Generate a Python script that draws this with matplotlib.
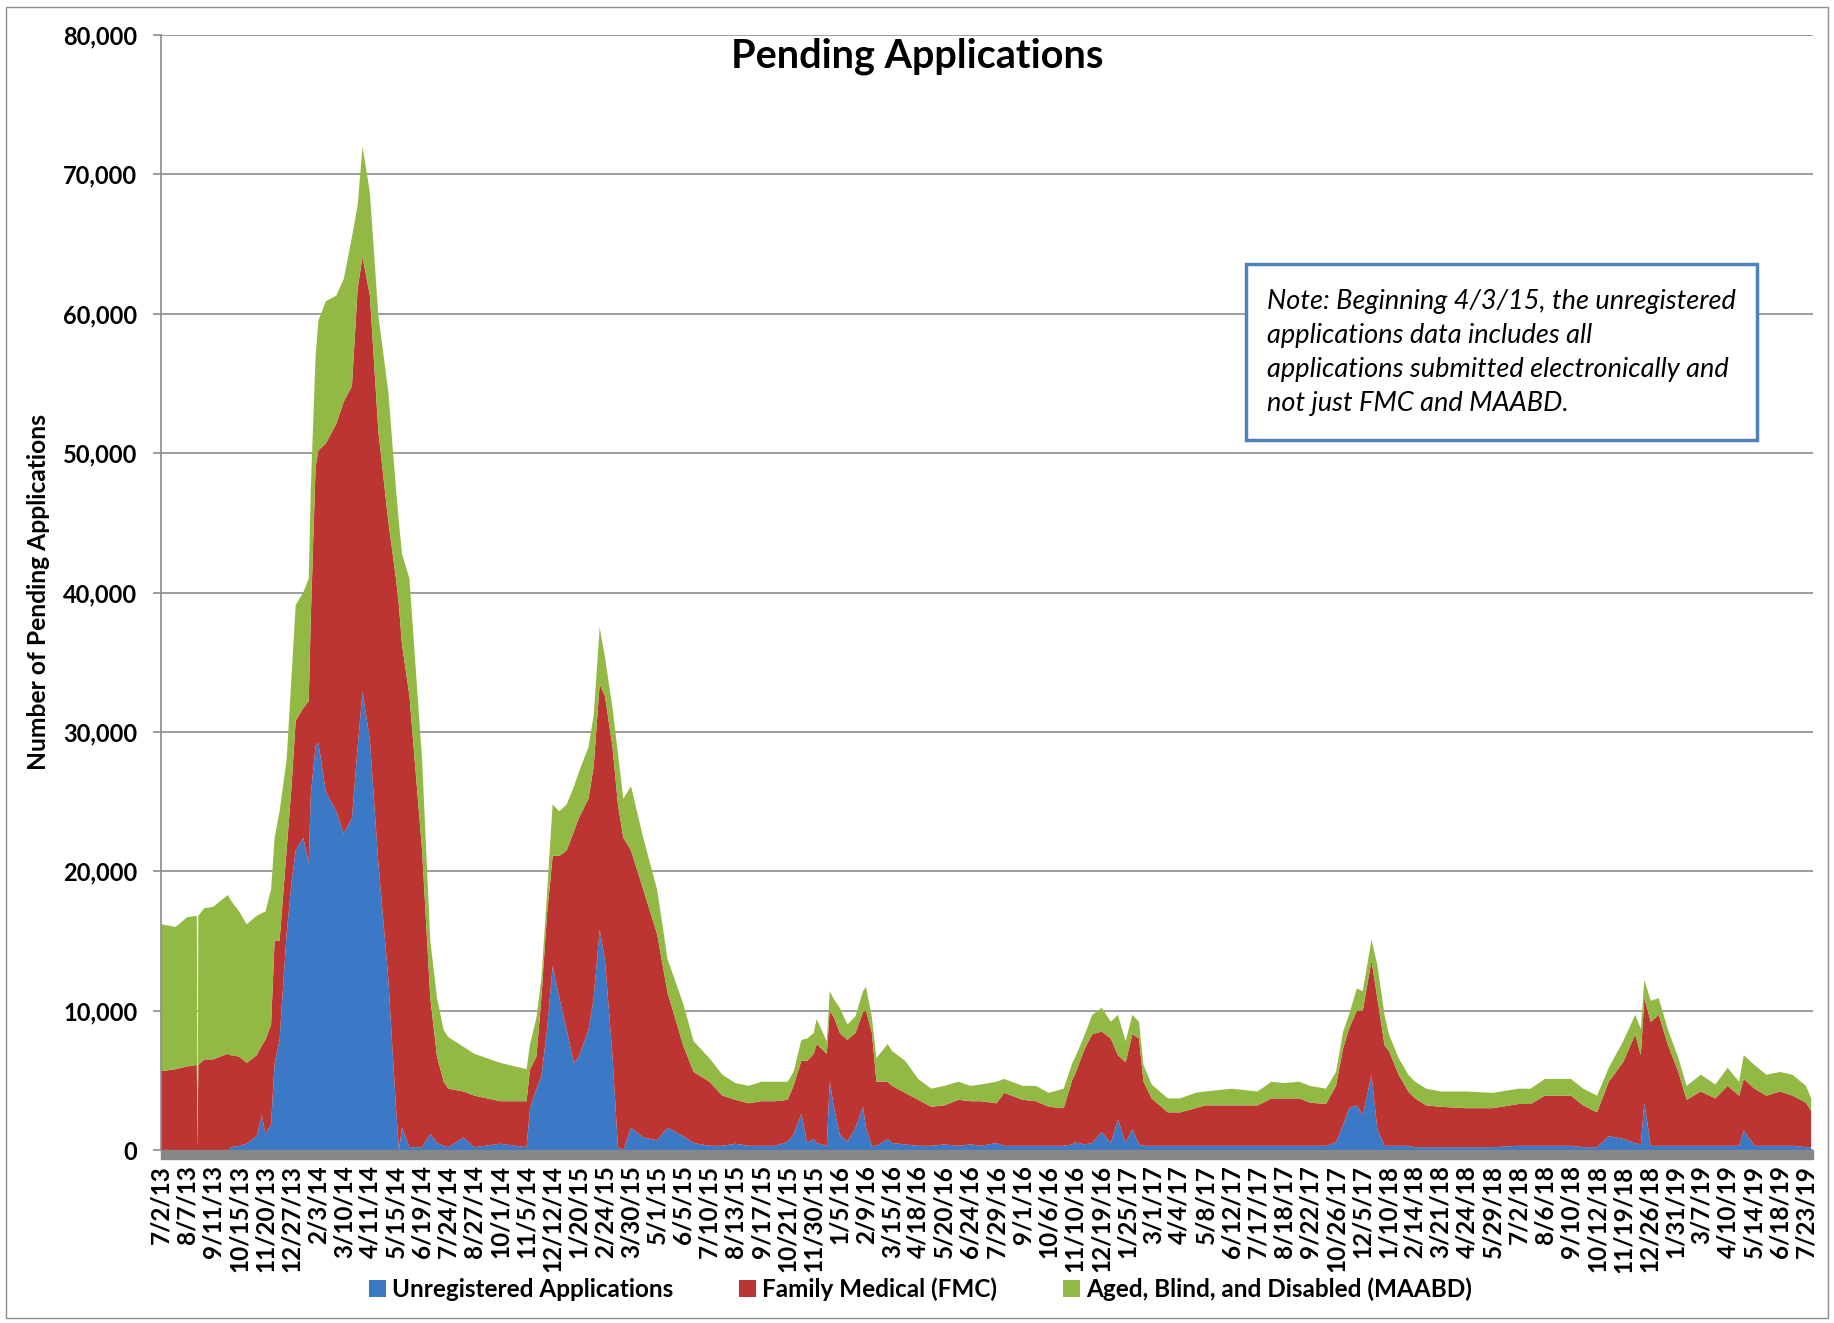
import numpy as np
import pandas as pd
import matplotlib
matplotlib.use("Agg")
import matplotlib.pyplot as plt
from matplotlib.patches import Patch, Rectangle
from matplotlib.ticker import FuncFormatter, MultipleLocator

plt.rcParams["font.family"] = ["Lato", "DejaVu Sans"]

# category labels shown on the x axis
tick_labels = [
    "7/2/13", "8/7/13", "9/11/13", "10/15/13", "11/20/13", "12/27/13", "2/3/14", "3/10/14",
    "4/11/14", "5/15/14", "6/19/14", "7/24/14", "8/27/14", "10/1/14", "11/5/14", "12/12/14",
    "1/20/15", "2/24/15", "3/30/15", "5/1/15", "6/5/15", "7/10/15", "8/13/15", "9/17/15",
    "10/21/15", "11/30/15", "1/5/16", "2/9/16", "3/15/16", "4/18/16", "5/20/16", "6/24/16",
    "7/29/16", "9/1/16", "10/6/16", "11/10/16", "12/19/16", "1/25/17", "3/1/17", "4/4/17",
    "5/8/17", "6/12/17", "7/17/17", "8/18/17", "9/22/17", "10/26/17", "12/5/17", "1/10/18",
    "2/14/18", "3/21/18", "4/24/18", "5/29/18", "7/2/18", "8/6/18", "9/10/18", "10/12/18",
    "11/19/18", "12/26/18", "1/31/19", "3/7/19", "4/10/19", "5/14/19", "6/18/19", "7/23/19",
]

# dates
sample_dates = [
    "7/2/13", "7/22/13", "8/7/13", "8/20/13", "8/21/13", "8/22/13", "8/30/13", "9/11/13", "9/30/13", "10/4/13",
    "10/15/13", "10/25/13", "11/8/13", "11/15/13", "11/20/13", "11/28/13", "12/3/13", "12/10/13", "12/20/13", "12/27/13",
    "1/2/14", "1/13/14", "1/21/14", "1/24/14", "1/31/14", "2/4/14", "2/14/14", "2/28/14", "3/10/14", "3/20/14",
    "3/27/14", "4/2/14", "4/11/14", "4/22/14", "5/5/14", "5/15/14", "5/19/14", "5/23/14", "6/2/14", "6/19/14",
    "6/30/14", "7/9/14", "7/18/14", "7/24/14", "8/13/14", "8/27/14", "10/1/14", "11/5/14", "11/10/14", "11/19/14",
    "11/26/14", "12/4/14", "12/12/14", "12/22/14", "1/2/15", "1/13/15", "1/20/15", "2/2/15", "2/9/15", "2/17/15",
    "2/24/15", "3/6/15", "3/13/15", "3/20/15", "3/30/15", "4/14/15", "5/1/15", "5/15/15", "6/5/15", "6/19/15",
    "7/10/15", "7/27/15", "8/13/15", "8/31/15", "9/17/15", "10/5/15", "10/21/15", "10/30/15", "11/11/15", "11/20/15",
    "11/30/15", "12/4/15", "12/18/15", "12/22/15", "12/28/15", "1/5/16", "1/15/16", "1/26/16", "2/5/16", "2/9/16",
    "2/17/16", "2/23/16", "3/9/16", "3/15/16", "4/1/16", "4/18/16", "5/4/16", "5/20/16", "6/8/16", "6/24/16",
    "7/8/16", "7/29/16", "8/8/16", "9/1/16", "9/19/16", "10/6/16", "10/26/16", "11/7/16", "11/10/16", "11/25/16",
    "12/6/16", "12/20/16", "1/2/17", "1/12/17", "1/23/17", "2/1/17", "2/10/17", "2/16/17", "2/27/17", "3/20/17",
    "4/5/17", "4/25/17", "5/8/17", "6/12/17", "7/17/17", "8/3/17", "8/18/17", "9/8/17", "9/22/17", "10/13/17",
    "10/26/17", "11/6/17", "11/15/17", "11/27/17", "12/6/17", "12/18/17", "12/26/17", "1/5/18", "1/11/18", "1/24/18",
    "2/6/18", "2/15/18", "3/2/18", "3/21/18", "4/24/18", "5/29/18", "7/2/18", "7/18/18", "8/6/18", "9/10/18",
    "9/25/18", "10/12/18", "10/29/18", "11/19/18", "12/6/18", "12/14/18", "12/19/18", "12/28/18", "1/8/19", "1/21/19",
    "2/4/19", "2/15/19", "3/6/19", "3/25/19", "4/10/19", "4/25/19", "5/1/19", "5/15/19", "5/31/19", "6/18/19",
    "7/5/19", "7/23/19", "7/30/19",
]

# pending applications, thousands
unregistered = [
    0, 0, 0, 0, 0, 0, 0, 0, 0, 0.2,
    0.3, 0.45, 1.0, 2.5, 1.15, 1.85, 6.2, 7.9, 15.5, 19.2,
    21.5, 22.4, 20.6, 25.5, 29.0, 29.2, 25.7, 24.3, 22.7, 23.8,
    28.9, 32.9, 29.4, 20.6, 12.3, 3.0, 0, 1.6, 0.2, 0.2,
    1.15, 0.5, 0.3, 0.2, 0.9, 0.2, 0.45, 0.2, 3.0, 4.4,
    5.3, 8.6, 13.2, 10.9, 8.6, 6.2, 6.7, 8.6, 10.9, 15.8,
    13.7, 6.7, 0.2, 0, 1.6, 0.9, 0.7, 1.6, 1.0, 0.5,
    0.3, 0.3, 0.45, 0.3, 0.3, 0.3, 0.6, 1.1, 2.6, 0.5,
    0.8, 0.5, 0.3, 4.9, 3.0, 1.1, 0.6, 1.6, 3.1, 1.6,
    0.3, 0.3, 0.8, 0.5, 0.4, 0.3, 0.3, 0.4, 0.3, 0.4,
    0.3, 0.5, 0.3, 0.3, 0.3, 0.3, 0.3, 0.4, 0.55, 0.4,
    0.5, 1.3, 0.5, 2.2, 0.5, 1.5, 0.4, 0.3, 0.3, 0.3,
    0.3, 0.3, 0.3, 0.3, 0.3, 0.3, 0.3, 0.3, 0.3, 0.3,
    0.55, 1.8, 3.0, 3.2, 2.5, 5.4, 1.5, 0.3, 0.3, 0.3,
    0.3, 0.2, 0.2, 0.2, 0.2, 0.2, 0.3, 0.3, 0.3, 0.3,
    0.2, 0.2, 1.0, 0.8, 0.5, 0.4, 3.4, 0.3, 0.3, 0.3,
    0.3, 0.3, 0.3, 0.3, 0.3, 0.3, 1.4, 0.3, 0.3, 0.3,
    0.3, 0.2, 0.2,
]
family_medical = [
    5.65, 5.8, 6.0, 6.1, 0, 6.1, 6.5, 6.5, 6.9, 6.6,
    6.4, 5.8, 5.8, 5.0, 6.75, 7.15, 8.8, 7.1, 6.0, 6.9,
    9.3, 9.3, 11.6, 12.7, 20.0, 21.0, 25.0, 27.8, 31.0, 31.0,
    32.9, 31.2, 31.9, 31.0, 32.8, 38.0, 39.0, 34.7, 32.4, 21.3,
    9.75, 6.2, 4.6, 4.2, 3.3, 3.7, 3.05, 3.3, 2.8, 2.3,
    5.6, 8.3, 7.9, 10.2, 12.9, 16.7, 17.1, 16.6, 16.6, 17.6,
    18.9, 22.2, 24.6, 22.4, 19.9, 17.8, 14.8, 9.7, 6.5, 5.1,
    4.6, 3.6, 3.15, 3.05, 3.2, 3.2, 3.0, 3.5, 3.8, 5.9,
    6.1, 7.1, 6.6, 5.1, 6.5, 7.3, 7.3, 6.8, 6.8, 8.4,
    8.1, 4.6, 4.1, 4.1, 3.7, 3.3, 2.8, 2.8, 3.3, 3.1,
    3.2, 2.85, 3.8, 3.3, 3.2, 2.8, 2.7, 4.7, 4.85, 6.9,
    7.8, 7.2, 7.5, 4.6, 5.8, 6.8, 7.6, 4.6, 3.4, 2.4,
    2.4, 2.7, 2.9, 2.9, 2.9, 3.4, 3.4, 3.4, 3.1, 3.0,
    4.05, 5.5, 5.7, 6.8, 7.5, 8.2, 9.4, 7.2, 6.8, 5.1,
    3.9, 3.5, 3.0, 2.9, 2.8, 2.8, 3.0, 3.0, 3.6, 3.6,
    3.0, 2.5, 3.9, 5.5, 7.8, 6.4, 7.5, 8.9, 9.4, 7.2,
    5.3, 3.3, 3.9, 3.4, 4.3, 3.6, 3.7, 4.1, 3.6, 3.9,
    3.6, 3.2, 2.6,
]
aged_blind_disabled = [
    10.55, 10.2, 10.7, 10.7, 0, 10.7, 10.85, 10.95, 11.4, 11.1,
    10.4, 9.95, 10.0, 9.5, 9.2, 9.7, 7.4, 9.3, 6.5, 7.9,
    8.3, 8.3, 8.8, 9.2, 8.0, 9.3, 10.2, 9.2, 8.8, 10.7,
    6.0, 7.9, 7.4, 8.3, 9.3, 6.4, 6.0, 6.5, 8.4, 6.5,
    4.1, 4.2, 3.7, 3.7, 3.2, 3.0, 2.75, 2.3, 1.8, 2.8,
    1.4, 1.5, 3.7, 3.2, 3.3, 3.2, 3.3, 3.7, 3.7, 4.1,
    2.8, 2.8, 3.7, 2.8, 4.6, 3.7, 3.2, 2.4, 3.0, 2.2,
    1.7, 1.5, 1.2, 1.25, 1.4, 1.4, 1.3, 1.0, 1.5, 1.6,
    1.5, 1.8, 0.9, 1.4, 1.3, 1.8, 1.1, 1.2, 1.5, 1.7,
    1.1, 1.7, 2.7, 2.5, 2.3, 1.5, 1.3, 1.4, 1.3, 1.1,
    1.2, 1.55, 1.0, 1.0, 1.1, 1.0, 1.4, 1.2, 1.2, 1.0,
    1.4, 1.7, 1.2, 2.9, 1.5, 1.4, 1.2, 1.2, 1.0, 1.0,
    1.0, 1.1, 1.0, 1.2, 1.0, 1.2, 1.1, 1.2, 1.2, 1.1,
    1.0, 1.2, 1.0, 1.6, 1.4, 1.5, 2.4, 2.2, 1.2, 1.2,
    1.2, 1.2, 1.2, 1.1, 1.2, 1.1, 1.1, 1.1, 1.2, 1.2,
    1.2, 1.2, 1.0, 1.5, 1.4, 1.9, 1.3, 1.5, 1.2, 1.1,
    1.0, 1.0, 1.2, 1.0, 1.3, 1.0, 1.7, 1.7, 1.5, 1.4,
    1.5, 1.2, 0.9,
]

series_names = ["Unregistered Applications", "Family Medical (FMC)", "Aged, Blind, and Disabled (MAABD)"]
colors = ["#3b78c5", "#bc3532", "#93b945"]


def to_days(labels):
    return pd.to_datetime(labels, format="%m/%d/%y").values.astype("datetime64[D]").astype(int)


# category axis: each labelled date sits on its own slot, dates in between are placed proportionally
tick_days = to_days(tick_labels)
tick_days_ext = np.append(tick_days, tick_days[-1] + 35)
x = np.interp(to_days(sample_dates), tick_days_ext, np.arange(len(tick_days_ext)))

layers = [np.array(s) * 1000 for s in (unregistered, family_medical, aged_blind_disabled)]

W, H = 1834, 1323
fig = plt.figure(figsize=(W / 100, H / 100), dpi=100)
ax = fig.add_axes([161 / W, 1 - 1150 / H, (1813 - 161) / W, (1150 - 35) / H])

ax.stackplot(x, *layers, colors=colors, linewidth=0)

ax.set_xlim(0, 63.27)
ax.set_ylim(0, 80000)
ax.yaxis.set_major_locator(MultipleLocator(10000))
ax.yaxis.set_major_formatter(FuncFormatter(lambda v, p: f"{int(v):,}"))
ax.grid(axis="y", color="#8c8c8c", linewidth=1.2)
ax.set_axisbelow(True)

ax.set_xticks(np.arange(len(tick_labels)))
ax.set_xticklabels(tick_labels, rotation=90, fontsize=17.5, fontweight="bold")
ax.tick_params(axis="x", length=0, pad=11)
ax.tick_params(axis="y", length=6, width=1.2, color="#8c8c8c", pad=11, labelsize=17)
for lab in ax.get_yticklabels():
    lab.set_fontweight("bold")

for side in ("top", "right", "bottom"):
    ax.spines[side].set_visible(False)
ax.spines["left"].set_color("#8c8c8c")
ax.spines["left"].set_linewidth(1.2)

# thick grey floor under the plot
fig.patches.append(Rectangle((161 / W, 1 - 1159 / H), (1813 - 161) / W, 9 / H,
                             transform=fig.transFigure, color="#878787", zorder=3))
# outer chart border
fig.patches.append(Rectangle((6 / W, 5 / H), (W - 12) / W, (H - 12) / H,
                             transform=fig.transFigure, fill=False, edgecolor="#8c8c8c", linewidth=1))

fig.text(0.5, 1 - 56 / H, "Pending Applications", ha="center", va="center",
         fontsize=28.5, fontweight="bold")
fig.text(39 / W, 1 - 592 / H, "Number of Pending Applications", rotation=90,
         ha="center", va="center", fontsize=17.7, fontweight="bold")

# note box
fig.patches.append(Rectangle((1246 / W, 1 - 440 / H), (1757 - 1246) / W, (440 - 264) / H,
                             transform=fig.transFigure, facecolor="white",
                             edgecolor="#4f81bd", linewidth=2.5, zorder=4))
fig.text(1267 / W, 1 - 352 / H,
         "Note: Beginning 4/3/15, the unregistered\napplications data includes all\n"
         "applications submitted electronically and\nnot just FMC and MAABD.",
         ha="left", va="center", fontsize=19.5, style="italic", linespacing=1.45, zorder=5)

handles = [Patch(facecolor=c, edgecolor="none") for c in colors]
fig.legend(handles, series_names, loc="center", bbox_to_anchor=(0.502, 1 - 1289 / H), ncol=3,
           frameon=False, prop={"weight": "bold", "size": 17.5}, handlelength=0.7, handleheight=0.7,
           handletextpad=0.25, columnspacing=2.7)

fig.savefig("out.png", dpi=100)
